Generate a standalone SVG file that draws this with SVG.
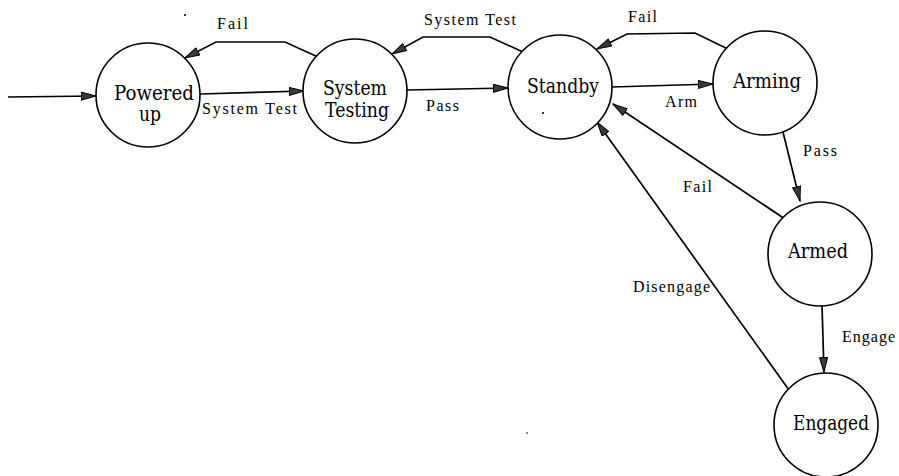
<svg xmlns="http://www.w3.org/2000/svg" width="899" height="476" viewBox="0 0 899 476">
  <style>
    .state { fill: #fff; stroke: #000; stroke-width: 1.6; }
    .edge { fill: none; stroke: #000; stroke-width: 1.7; marker-end: url(#head); }
    .lbl { font-family: "Liberation Serif", serif; font-size: 16px; fill: #000; }
    .nm { font-family: "DejaVu Serif", serif; font-size: 20px; fill: #000; }
    .speck { fill: #000; }
  </style>
  <defs>
    <marker id="head" markerUnits="userSpaceOnUse" markerWidth="16" markerHeight="10" refX="15" refY="4.5" orient="auto">
      <path d="M0.5,0.5 L15,4.5 L0.5,8.5 Z" fill="#3a3a3a" stroke="#000" stroke-width="1"/>
    </marker>
  </defs>
  <rect width="899" height="476" fill="#fff"/>

  <!-- transitions -->
  <g id="connectors">
    <path class="edge" d="M8,97 L96,96"/>
    <path class="edge" d="M200,94 L304,91"/>
    <path class="edge" d="M318,57 L285,42 L216,42 L185,58"/>
    <path class="edge" d="M407,90 L508,88"/>
    <path class="edge" d="M523,52 L490,37 L423,37 L392,54"/>
    <path class="edge" d="M612,87 L713,84"/>
    <path class="edge" d="M730,50 L695,33 L627,34 L597,49"/>
    <path class="edge" d="M783,132 L800,201"/>
    <path class="edge" d="M785,219 L613,104"/>
    <path class="edge" d="M822,305 L824,372"/>
    <path class="edge" d="M789,390 L597,122"/>
    <text class="lbl" x="202" y="114" textLength="95" lengthAdjust="spacing">System Test</text>
    <text class="lbl" x="217" y="29" textLength="31" lengthAdjust="spacing">Fail</text>
    <text class="lbl" x="424" y="25" textLength="92" lengthAdjust="spacing">System Test</text>
    <text class="lbl" x="426" y="111" textLength="33" lengthAdjust="spacing">Pass</text>
    <text class="lbl" x="628" y="22" textLength="29" lengthAdjust="spacing">Fail</text>
    <text class="lbl" x="665" y="107" textLength="32" lengthAdjust="spacing">Arm</text>
    <text class="lbl" x="803" y="156" textLength="34" lengthAdjust="spacing">Pass</text>
    <text class="lbl" x="683" y="192" textLength="29" lengthAdjust="spacing">Fail</text>
    <text class="lbl" x="633" y="292" textLength="77" lengthAdjust="spacing">Disengage</text>
    <text class="lbl" x="842" y="342" textLength="53" lengthAdjust="spacing">Engage</text>
  </g>

  <g id="powered-up">
    <circle class="state" cx="148" cy="95" r="52"/>
    <text class="nm" x="114" y="100" textLength="80" lengthAdjust="spacingAndGlyphs">Powered</text>
    <text class="nm" x="139" y="121" textLength="22" lengthAdjust="spacingAndGlyphs">up</text>
  </g>
  <g id="system-testing">
    <circle class="state" cx="355" cy="91" r="52"/>
    <text class="nm" x="323" y="95" textLength="64" lengthAdjust="spacingAndGlyphs">System</text>
    <text class="nm" x="325" y="117" textLength="64" lengthAdjust="spacingAndGlyphs">Testing</text>
  </g>
  <g id="standby">
    <circle class="state" cx="560" cy="87" r="52"/>
    <text class="nm" x="527" y="93" textLength="72" lengthAdjust="spacingAndGlyphs">Standby</text>
  </g>
  <g id="arming">
    <circle class="state" cx="765" cy="83" r="52"/>
    <text class="nm" x="733" y="88" textLength="68" lengthAdjust="spacingAndGlyphs">Arming</text>
  </g>
  <g id="armed">
    <circle class="state" cx="820" cy="254" r="52"/>
    <text class="nm" x="788" y="258" textLength="60" lengthAdjust="spacingAndGlyphs">Armed</text>
  </g>
  <g id="engaged">
    <circle class="state" cx="826" cy="425" r="52"/>
    <text class="nm" x="793" y="430" textLength="76" lengthAdjust="spacingAndGlyphs">Engaged</text>
  </g>

  <!-- stray specks -->
  <circle class="speck" cx="185" cy="15" r="1"/>
  <circle class="speck" cx="543" cy="113" r="1"/>
  <circle class="speck" cx="527" cy="433" r="0.8"/>
</svg>
